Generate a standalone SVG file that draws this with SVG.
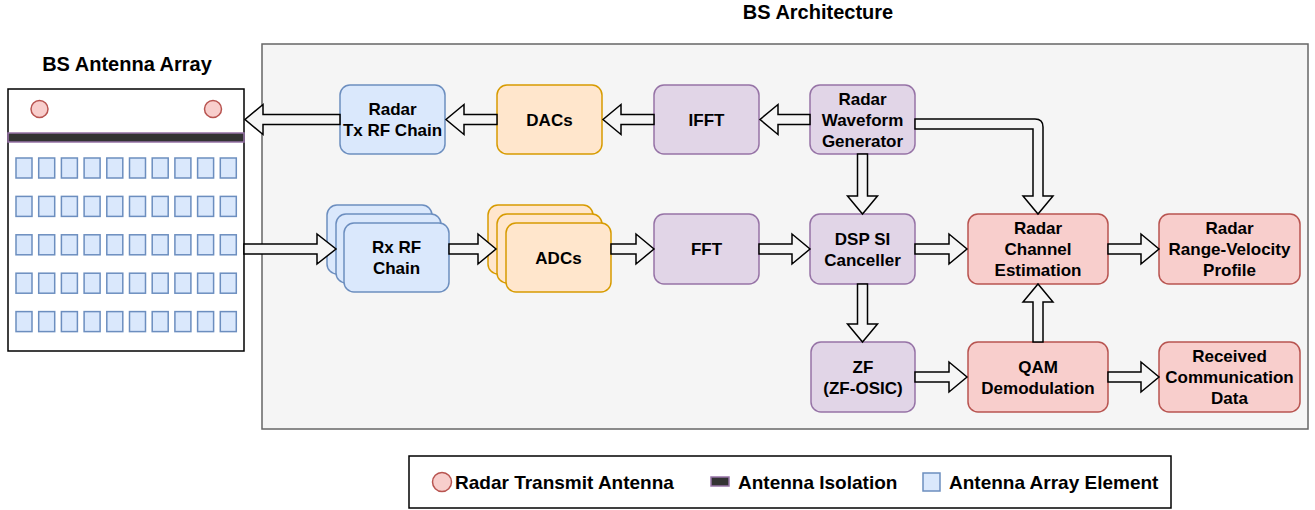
<svg xmlns="http://www.w3.org/2000/svg" width="1315" height="510" viewBox="0 0 1315 510">
<style>
text{font-family:"Liberation Sans",Arial,Helvetica,sans-serif;font-weight:bold;fill:#000;}
.t{font-size:17px;text-anchor:middle;}
.ttl{font-size:20px;text-anchor:middle;}
.lg{font-size:19px;}
.blue{fill:#dae8fc;stroke:#6c8ebf;stroke-width:1.5;}
.orange{fill:#ffe6cc;stroke:#d79b00;stroke-width:1.5;}
.purple{fill:#e1d5e7;stroke:#9673a6;stroke-width:1.5;}
.red{fill:#f8cecc;stroke:#b85450;stroke-width:1.5;}
.el{fill:#dae8fc;stroke:#6c8ebf;stroke-width:1.5;}
.arr{fill:#f5f5f5;stroke:#000;stroke-width:1.5;stroke-linejoin:miter;}
</style>
<defs>
<rect id="sq" width="16" height="20" class="el"/>
<g id="row">
<use href="#sq" x="16"/><use href="#sq" x="38.7"/><use href="#sq" x="61.4"/><use href="#sq" x="84.1"/><use href="#sq" x="106.8"/>
<use href="#sq" x="129.5"/><use href="#sq" x="152.2"/><use href="#sq" x="174.9"/><use href="#sq" x="197.6"/><use href="#sq" x="220.3"/>
</g>
</defs>

<text class="ttl" x="818" y="19">BS Architecture</text>
<rect id="container" x="262" y="44" width="1046" height="385" fill="#f5f5f5" stroke="#666" stroke-width="1.5"/>

<g id="antenna-array">
<text class="ttl" x="127" y="71">BS Antenna Array</text>
<rect x="8" y="89" width="236" height="262" fill="#fff" stroke="#000" stroke-width="1.5"/>
<circle cx="39.5" cy="109" r="8.5" fill="#f8cecc" stroke="#b85450" stroke-width="1.5"/>
<circle cx="213" cy="109" r="8.5" fill="#f8cecc" stroke="#b85450" stroke-width="1.5"/>
<rect x="8" y="133" width="236" height="9" fill="#333" stroke="#9673a6" stroke-width="1.5"/>
<use href="#row" y="158"/>
<use href="#row" y="196.4"/>
<use href="#row" y="234.8"/>
<use href="#row" y="273.2"/>
<use href="#row" y="311.6"/>
</g>

<g id="tx-rf">
<rect x="340" y="85" width="105" height="69" rx="10" class="blue"/>
<text class="t" x="392.5" y="115">Radar</text>
<text class="t" x="392.5" y="136">Tx RF Chain</text>
</g>
<g id="dacs">
<rect x="497" y="85" width="105" height="69" rx="10" class="orange"/>
<text class="t" x="549.5" y="125.5">DACs</text>
</g>
<g id="ifft">
<rect x="654" y="85" width="105" height="69" rx="10" class="purple"/>
<text class="t" x="706.5" y="125.5">IFFT</text>
</g>
<g id="rwg">
<rect x="810" y="85" width="105" height="69" rx="10" class="purple"/>
<text class="t" x="862.5" y="105">Radar</text>
<text class="t" x="862.5" y="126">Waveform</text>
<text class="t" x="862.5" y="147">Generator</text>
</g>
<g id="rx-rf">
<rect x="327" y="205" width="105" height="69" rx="10" class="blue"/>
<rect x="336" y="214" width="105" height="69" rx="10" class="blue"/>
<rect x="344" y="223" width="105" height="69" rx="10" class="blue"/>
<text class="t" x="396.5" y="253">Rx RF</text>
<text class="t" x="396.5" y="274">Chain</text>
</g>
<g id="adcs">
<rect x="488" y="205" width="105" height="69" rx="10" class="orange"/>
<rect x="497" y="214" width="105" height="69" rx="10" class="orange"/>
<rect x="506" y="223" width="105" height="69" rx="10" class="orange"/>
<text class="t" x="558.5" y="264">ADCs</text>
</g>
<g id="fft">
<rect x="654" y="214" width="105" height="70" rx="10" class="purple"/>
<text class="t" x="706.5" y="255">FFT</text>
</g>
<g id="dsp">
<rect x="810" y="214" width="105" height="70" rx="10" class="purple"/>
<text class="t" x="862.5" y="244.5">DSP SI</text>
<text class="t" x="862.5" y="265.5">Canceller</text>
</g>
<g id="rce">
<rect x="968" y="214" width="140" height="70" rx="10" class="red"/>
<text class="t" x="1038" y="234">Radar</text>
<text class="t" x="1038" y="255">Channel</text>
<text class="t" x="1038" y="276">Estimation</text>
</g>
<g id="rrvp">
<rect x="1159" y="214" width="141" height="70" rx="10" class="red"/>
<text class="t" x="1229.5" y="234">Radar</text>
<text class="t" x="1229.5" y="255">Range-Velocity</text>
<text class="t" x="1229.5" y="276">Profile</text>
</g>
<g id="zf">
<rect x="811" y="342" width="104" height="70" rx="10" class="purple"/>
<text class="t" x="863" y="372.5">ZF</text>
<text class="t" x="863" y="393.5">(ZF-OSIC)</text>
</g>
<g id="qam">
<rect x="968" y="342" width="140" height="70" rx="10" class="red"/>
<text class="t" x="1038" y="372.5">QAM</text>
<text class="t" x="1038" y="393.5">Demodulation</text>
</g>
<g id="rcd">
<rect x="1159" y="342" width="141" height="70" rx="10" class="red"/>
<text class="t" x="1229.5" y="362">Received</text>
<text class="t" x="1229.5" y="383">Communication</text>
<text class="t" x="1229.5" y="404">Data</text>
</g>

<g id="connectors">
<polygon class="arr" points="340,114.5 263,114.5 263,104.5 245,119.5 263,134.5 263,124.5 340,124.5"/>
<polygon class="arr" points="497,114.5 464,114.5 464,104.5 446,119.5 464,134.5 464,124.5 497,124.5"/>
<polygon class="arr" points="654,114.5 621,114.5 621,104.5 603,119.5 621,134.5 621,124.5 654,124.5"/>
<polygon class="arr" points="810,114.5 778,114.5 778,104.5 760,119.5 778,134.5 778,124.5 810,124.5"/>
<polygon class="arr" points="244,244 317,244 317,234 336,249 317,264 317,254 244,254"/>
<polygon class="arr" points="449,244 478,244 478,234 496,249 478,264 478,254 449,254"/>
<polygon class="arr" points="611,244 636,244 636,234 654,249 636,264 636,254 611,254"/>
<polygon class="arr" points="759,244 792,244 792,234 810,249 792,264 792,254 759,254"/>
<polygon class="arr" points="915,244 949,244 949,234 967,249 949,264 949,254 915,254"/>
<polygon class="arr" points="1108,244 1141,244 1141,234 1159,249 1141,264 1141,254 1108,254"/>
<polygon class="arr" points="915,372 949,372 949,362 967,377 949,392 949,382 915,382"/>
<polygon class="arr" points="1108,372 1141,372 1141,362 1159,377 1141,392 1141,382 1108,382"/>
<polygon class="arr" points="857.5,154 857.5,196 847.5,196 862.5,214 877.5,196 867.5,196 867.5,154"/>
<polygon class="arr" points="857.5,284 857.5,324 847.5,324 862.5,342 877.5,324 867.5,324 867.5,284"/>
<polygon class="arr" points="1033,342 1033,302 1023,302 1038,284 1053,302 1043,302 1043,342"/>
<path class="arr" d="M915,119 L1035,119 Q1043,119 1043,127 L1043,196 L1053,196 L1038,214 L1023,196 L1033,196 L1033,129 L915,129 Z"/>
</g>

<g id="legend">
<rect x="409" y="456" width="762" height="52" fill="#fff" stroke="#000" stroke-width="1.5"/>
<circle cx="442" cy="482" r="9.5" fill="#f8cecc" stroke="#b85450" stroke-width="1.5"/>
<text class="lg" x="455" y="488.5">Radar Transmit Antenna</text>
<rect x="711" y="477" width="18" height="9" fill="#333" stroke="#9673a6" stroke-width="1.5"/>
<text class="lg" x="738" y="488.5">Antenna Isolation</text>
<rect x="923" y="473" width="17" height="18" class="el"/>
<text class="lg" x="949" y="488.5">Antenna Array Element</text>
</g>
</svg>
